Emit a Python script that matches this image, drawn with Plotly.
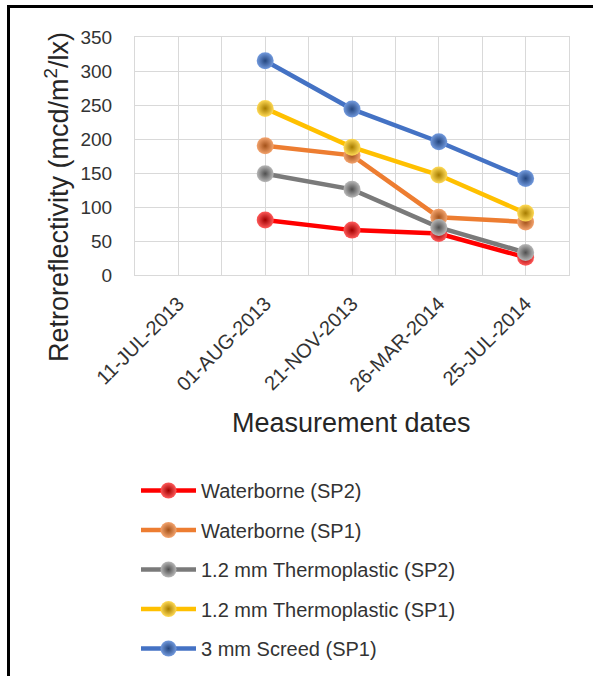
import plotly.graph_objects as go

dates = ["11-JUL-2013", "01-AUG-2013", "21-NOV-2013", "26-MAR-2014", "25-JUL-2014"]
x_pos = list(range(len(dates)))

waterborne_sp2 = [None, 81, 66, 61, 26]
waterborne_sp1 = [None, 190, 176, 85, 78]
thermo_sp2 = [None, 149, 126, 70, 33]
thermo_sp1 = [None, 245, 188, 147, 91]
screed_sp1 = [None, 315, 244, 196, 142]

series = [
    ("Waterborne (SP2)", waterborne_sp2, "#ff0000", "#ff5a5a", "#a00000"),
    ("Waterborne (SP1)", waterborne_sp1, "#ed7d31", "#f4a46e", "#a4521a"),
    ("1.2 mm Thermoplastic (SP2)", thermo_sp2, "#7a7a7a", "#b8b8b8", "#505050"),
    ("1.2 mm Thermoplastic (SP1)", thermo_sp1, "#ffc000", "#ffda55", "#a67c00"),
    ("3 mm Screed (SP1)", screed_sp1, "#4472c4", "#729ade", "#24467f"),
]

fig = go.Figure()
for i, (name, vals, lc, mc, gc) in enumerate(series):
    fig.add_trace(go.Scatter(
        x=x_pos, y=vals, name=name, mode="lines+markers",
        legendgroup="g%d" % i,
        line=dict(color=lc, width=4.5),
        marker=dict(size=17, color=mc, gradient=dict(type="radial", color=gc),
                    line=dict(width=0)),
        connectgaps=False,
    ))

L, R, T, B = 135, 24, 37, 401
W, H = 593, 676
pw = W - L - R
ph = H - T - B

def px_x(p):
    return (p - L) / pw

def px_y(p):
    return (H - B - p) / ph

font_fam = "Liberation Sans, Arial, sans-serif"

fig.update_layout(
    width=W, height=H,
    margin=dict(l=L, r=R, t=T, b=B, autoexpand=False),
    paper_bgcolor="white", plot_bgcolor="white",
    font=dict(family=font_fam, color="#333333"),
    showlegend=True,
    legend=dict(
        x=px_x(136), y=px_y(471), xanchor="left", yanchor="top",
        orientation="v", tracegroupgap=10.5, itemwidth=55,
        font=dict(size=20, color="#333333", family=font_fam),
        bgcolor="rgba(0,0,0,0)",
    ),
    xaxis=dict(
        range=[-0.5, 4.5], tickmode="array", tickvals=x_pos, ticktext=dates,
        tickangle=-45, tickfont=dict(size=20, color="#333333"),
        showgrid=True, gridcolor="#d9d9d9", gridwidth=1,
        minor=dict(tickmode="array", tickvals=[-0.5, 0.5, 1.5, 2.5, 3.5, 4.5],
                   showgrid=True, gridcolor="#d9d9d9", gridwidth=1),
        showline=True, linecolor="#d9d9d9", mirror=True,
        zeroline=False, ticks="", ticklabelstandoff=8,
        fixedrange=True,
    ),
    yaxis=dict(
        range=[0, 350], dtick=50, tickfont=dict(size=19, color="#333333"),
        showgrid=True, gridcolor="#d9d9d9", gridwidth=1,
        showline=True, linecolor="#d9d9d9", mirror=True,
        zeroline=False, ticks="", ticklabelstandoff=18,
        fixedrange=True,
    ),
    annotations=[
        dict(text="Measurement dates", xref="paper", yref="paper",
             x=px_x(351), y=px_y(423), xanchor="center", yanchor="middle",
             showarrow=False, font=dict(size=27, color="#262626")),
        dict(text="Retroreflectivity (mcd/m<sup>2</sup>/lx)", xref="paper", yref="paper",
             x=px_x(57), y=px_y(197), xanchor="center", yanchor="middle",
             textangle=-90, showarrow=False, font=dict(size=27, color="#262626")),
    ],
    shapes=[
        dict(type="line", xref="paper", yref="paper",
             x0=px_x(8.5), x1=px_x(600), y0=px_y(6.5), y1=px_y(6.5),
             line=dict(color="black", width=3)),
        dict(type="line", xref="paper", yref="paper",
             x0=px_x(8.5), x1=px_x(8.5), y0=px_y(5), y1=px_y(690),
             line=dict(color="black", width=3)),
    ],
)

fig.write_html("out.html",
               config={"displayModeBar": False},
               post_script="document.body.style.margin='0';document.body.style.overflow='hidden';")
